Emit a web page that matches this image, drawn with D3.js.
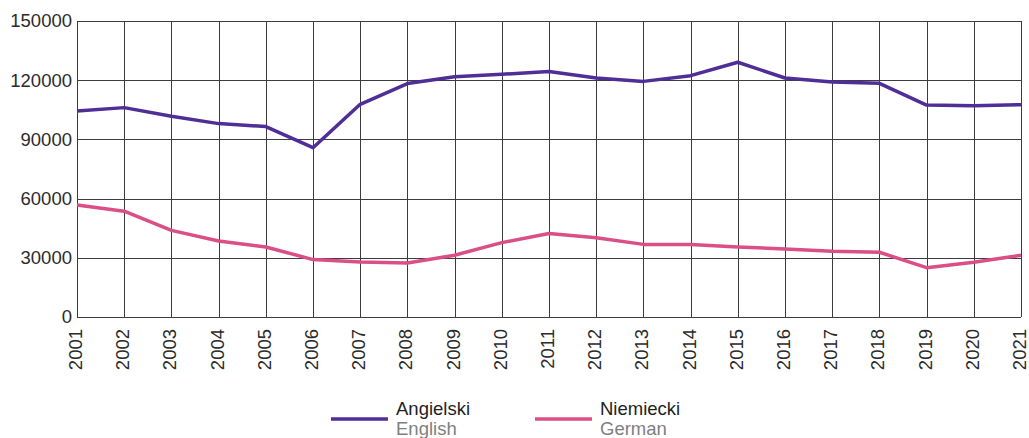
<!DOCTYPE html>
<html>
<head>
<meta charset="utf-8">
<script src="https://cdn.jsdelivr.net/npm/d3@7"></script>
<style>
  body { margin: 0; background: #fff; }
  text { font-family: Arial, "Liberation Sans", sans-serif; }
</style>
</head>
<body>
<svg></svg>
<script>
const years = ["2001","2002","2003","2004","2005","2006","2007","2008","2009","2010",
  "2011","2012","2013","2014","2015","2016","2017","2018","2019","2020","2021"];
const english = [104400, 106100, 101700, 98000, 96500, 85800, 107800, 118300, 121800, 123000,
  124400, 121100, 119400, 122300, 129100, 121100, 119100, 118400, 107400, 107100, 107600];
const german = [56800, 53600, 43900, 38500, 35500, 29100, 27900, 27400, 31300, 37700,
  42300, 40200, 36800, 36800, 35500, 34500, 33300, 32800, 25000, 27700, 31300];
const yTicks = [0, 30000, 60000, 90000, 120000, 150000];
const legendItems = [
  { pl: "Angielski", en: "English", color: "#4f2e98" },
  { pl: "Niemiecki", en: "German", color: "#da4f86" },
];

const width = 1029;
const height = 438;
const margin = { left: 77, right: 8, top: 21, bottom: 121 };

const svg = d3.select("svg").attr("width", width).attr("height", height);

const x = d3.scalePoint().domain(years).range([margin.left, width - margin.right]);
const y = d3.scaleLinear().domain([0, 150000]).range([height - margin.bottom, margin.top]);

// grid
const grid = svg.append("g").attr("stroke", "#3c3c3c").attr("stroke-width", 1);
grid.selectAll("line.v")
  .data(years)
  .enter()
  .append("line")
  .attr("class", "v")
  .attr("x1", (d) => Math.round(x(d)) + 0.5)
  .attr("x2", (d) => Math.round(x(d)) + 0.5)
  .attr("y1", y(150000))
  .attr("y2", y(0));
grid.selectAll("line.h")
  .data(yTicks)
  .enter()
  .append("line")
  .attr("class", "h")
  .attr("x1", x(years[0]))
  .attr("x2", x(years[years.length - 1]))
  .attr("y1", (d) => Math.round(y(d)) + 0.5)
  .attr("y2", (d) => Math.round(y(d)) + 0.5);

// y axis labels
const yAxis = svg.append("g")
  .attr("transform", `translate(${margin.left},0)`)
  .call(d3.axisLeft(y).tickValues(yTicks).tickSize(0).tickPadding(5).tickFormat(d3.format("d")));
yAxis.select(".domain").remove();
yAxis.selectAll("text").attr("font-size", 18.5).attr("fill", "#2b2b2b").style("font-family", "Arial, 'Liberation Sans', sans-serif");

// x axis labels
const xAxis = svg.append("g")
  .attr("transform", `translate(0,${y(0)})`)
  .call(d3.axisBottom(x).tickSize(0));
xAxis.select(".domain").remove();
xAxis.selectAll("text")
  .attr("font-size", 18.5)
  .attr("fill", "#2b2b2b")
  .style("font-family", "Arial, 'Liberation Sans', sans-serif")
  .attr("text-anchor", "end")
  .attr("transform", "rotate(-90)")
  .attr("x", -12)
  .attr("y", -2)
  .attr("dy", "0.35em");

// lines
const line = d3.line().x((d, i) => x(years[i])).y((d) => y(d));
[english, german].forEach((series, i) => {
  svg.append("path")
    .datum(series)
    .attr("fill", "none")
    .attr("stroke", legendItems[i].color)
    .attr("stroke-width", 3.5)
    .attr("stroke-linejoin", "round")
    .attr("d", line);
});

// legend
const legend = svg.append("g");
const legendX = [331, 535];
legendItems.forEach((item, i) => {
  const g = legend.append("g").attr("transform", `translate(${legendX[i]},0)`);
  g.append("line")
    .attr("x1", 0).attr("x2", 57)
    .attr("y1", 419).attr("y2", 419)
    .attr("stroke", item.color)
    .attr("stroke-width", 3.5);
  g.append("text")
    .attr("x", 65).attr("y", 415)
    .attr("font-size", 18.5)
    .attr("fill", "#222")
    .text(item.pl);
  g.append("text")
    .attr("x", 65).attr("y", 435)
    .attr("font-size", 18.5)
    .attr("fill", "#808080")
    .text(item.en);
});
</script>
</body>
</html>
